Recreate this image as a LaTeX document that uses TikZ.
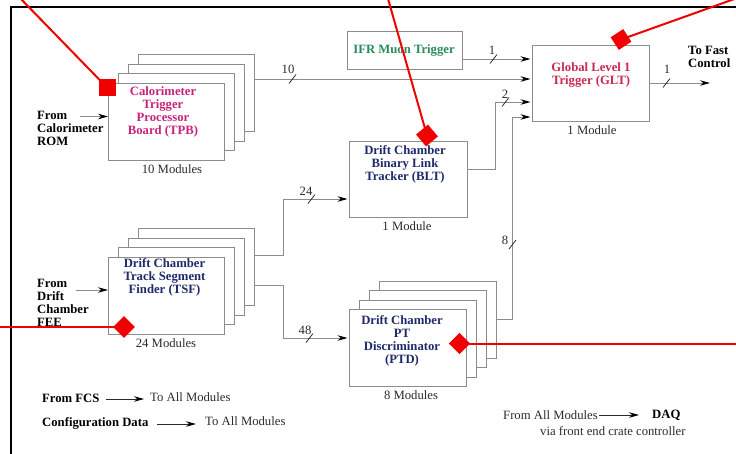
\documentclass[tikz,border=0pt]{standalone}
\usepackage{fontspec}
\setmainfont{Liberation Serif}
\usetikzlibrary{arrows.meta,calc}
\definecolor{boxgray}{HTML}{8C8C8C}
\definecolor{tpbcol}{HTML}{C8237A}
\definecolor{gltcol}{HTML}{C82A4E}
\definecolor{ifrcol}{HTML}{2A8A5C}
\definecolor{dccol}{HTML}{1F2A6B}
\definecolor{txtcol}{HTML}{2A2A2A}
\definecolor{annred}{HTML}{F00000}
\begin{document}
\begin{tikzpicture}[x=1pt,y=-1pt,
  box/.style={draw=boxgray, line width=1.1pt, fill=white, inner sep=0pt, anchor=north west},
  conn/.style={draw=boxgray, line width=0.9pt},
  arr/.style={conn, -{Stealth[length=10pt,width=5.5pt,color=black]}, shorten >=1.5pt},
  legarr/.style={draw=txtcol, line width=0.8pt, -{Stealth[length=10pt,width=5.5pt,color=black]}},
  lbl/.style={font=\fontsize{12.7}{13}\selectfont, text=txtcol, inner sep=0pt},
  blbl/.style={lbl, font=\fontsize{12.7}{13}\selectfont\bfseries, text=black},
  boxtext/.style={font=\fontsize{12.7}{13}\selectfont\bfseries, inner sep=0pt, align=center},
  slash/.style={draw=txtcol, line width=0.8pt},
  redline/.style={draw=annred, line width=2pt},
  redmark/.style={fill=annred, inner sep=0pt, minimum size=#1},
]
\useasboundingbox (0,0) rectangle (736,453);
\clip (0,0) rectangle (736,453);

% frame
\coordinate (frTR) at (740,7);
\coordinate (frTL) at (11,7);
\coordinate (frBL) at (11,460);
\draw[line width=2.6pt, black] (frTR) -- (frTL) -- (frBL);

% stacked boxes
\foreach \k in {3,2,1,0}
  \node[box, minimum width=116pt, minimum height=77pt] (tpb\k) at ({108+10*\k},{83-9.7*\k}) {};
\foreach \k in {3,2,1,0}
  \node[box, minimum width=116pt, minimum height=77pt] (tsf\k) at ({108+10*\k},{257-9.7*\k}) {};
\foreach \k in {3,2,1,0}
  \node[box, minimum width=117pt, minimum height=77pt] (ptd\k) at ({349+10*\k},{309-9.4*\k}) {};

% single boxes
\node[box, minimum width=115pt, minimum height=38pt] (ifr) at (347,31) {};
\node[box, minimum width=117pt, minimum height=76pt] (glt) at (532,45) {};
\node[box, minimum width=118pt, minimum height=76pt] (blt) at (349,141) {};

% box texts
\node[boxtext, text=tpbcol] (tpbt) at (163,111.5) {Calorimeter\\Trigger\\Processor\\Board (TPB)};
\node[boxtext, text=ifrcol] (ifrt) at (404,50) {IFR Muon Trigger};
\node[boxtext, text=gltcol] (gltt) at (591,74.5) {Global Level 1\\Trigger (GLT)};
\node[boxtext, text=dccol] (bltt) at (405,164) {Drift Chamber\\Binary Link\\Tracker (BLT)};
\node[boxtext, text=dccol] (tsft) at (164.5,277) {Drift Chamber\\Track Segment\\Finder (TSF)};
\node[boxtext, text=dccol] (ptdt) at (402,341) {Drift Chamber\\PT\\Discriminator\\(PTD)};

% module counts
\node[lbl] (tpbn) at (172,169) {10 Modules};
\node[lbl] (tsfn) at (166,343) {24 Modules};
\node[lbl] (ptdn) at (411,395) {8 Modules};
\node[lbl] (bltn) at (407,226) {1 Module};
\node[lbl] (gltn) at (592,130) {1 Module};

% inputs
\node[blbl, align=left, anchor=west] (calin) at (37,128.5) {From\\Calorimeter\\ROM};
\draw[legarr, draw=boxgray] (80,116.5) -- (tpb0.west |- 0,116.5);
\node[blbl, align=left, anchor=west] (dcin) at (37,302.5) {From\\Drift\\Chamber\\FEE};
\draw[legarr, draw=boxgray] (76,290) -- (tsf0.west |- 0,290);

% connectors
\draw[arr] (tpb3.east |- 0,79) -- (glt.west |- 0,79);
\draw[arr] (ifr.east |- 0,59) -- (glt.west |- 0,59);
\draw[arr] (blt.east |- 0,169) -- (495,169) -- (495,102) -- (glt.west |- 0,102);
\draw[arr] (ptd3.east |- 0,319) -- (512,319) -- (512,117) -- (glt.west |- 0,117);
\draw[arr] (tsf3.east |- 0,255) -- (283,255) -- (283,199) -- (blt.west |- 0,199);
\draw[arr] (tsf3.east |- 0,285) -- (283,285) -- (283,338) -- (ptd0.west |- 0,338);
\coordinate (fastout) at (710,83);
\draw[arr, shorten >=0pt] (glt.east |- 0,83) -- (fastout);
\node[blbl, align=left, anchor=west] (fastt) at (688,56.5) {To Fast\\Control};

% bus widths
\draw[slash] (289,83.5) -- (296,74.5);  \node[lbl] (w10) at (288,69.5) {10};
\draw[slash] (490,63.5) -- (497,54.5);  \node[lbl] (w1a) at (492,50) {1};
\draw[slash] (502,106.5) -- (509,97.5); \node[lbl] (w2) at (505,94.5) {2};
\draw[slash] (509,249) -- (516,240);    \node[lbl] (w8) at (505,240.5) {8};
\draw[slash] (308,203.5) -- (315,194.5);\node[lbl] (w24) at (306,191) {24};
\draw[slash] (306,342.5) -- (313,333.5);\node[lbl] (w48) at (305,330) {48};
\draw[slash] (663,87.5) -- (670,78.5);  \node[lbl] (w1b) at (667,69.5) {1};

% legend
\node[blbl, anchor=west] (fcs) at (42,398) {From FCS};
\node[lbl, anchor=west] (fcsto) at (150,397) {To All Modules};
\draw[legarr] (106,399) -- ($(fcsto.west |- 0,399)+(-6,0)$);
\node[blbl, anchor=west] (cfg) at (42,423.5) {Configuration Data};
\node[lbl, anchor=west] (cfgto) at (205,421.5) {To All Modules};
\draw[legarr] (157,424) -- ($(cfgto.west |- 0,424)+(-9,0)$);
\node[lbl, anchor=west] (fam) at (503,415) {From All Modules};
\node[blbl, anchor=west] (daq) at (652,415) {DAQ};
\draw[legarr] ($(fam.east)+(1,0)$) -- ($(daq.west)+(-13,0)$);
\node[lbl, anchor=west] (via) at (540,431) {via front end crate controller};

% red annotations
\node[redmark=17pt] (m1) at (107,87.5) {};
\coordinate (e1) at (19,-3);
\draw[redline] (e1) -- (m1.center);
\node[redmark=15.5pt, rotate=40] (m2) at (427,135.5) {};
\coordinate (e2) at (387.5,-3);
\draw[redline] (e2) -- (m2.center);
\node[redmark=15pt, rotate=33] (m3) at (621,39.5) {};
\coordinate (e3) at (740,-3);
\draw[redline] (e3) -- (m3.center);
\node[redmark=15.5pt, rotate=45] (m4) at (124,327) {};
\coordinate (e4) at (-3,327);
\draw[redline] (e4) -- (m4.center);
\node[redmark=15pt, rotate=45] (m5) at (459.5,343.5) {};
\coordinate (e5) at (740,343.5);
\draw[redline] (m5.center) -- (e5);
\end{tikzpicture}
\end{document}
